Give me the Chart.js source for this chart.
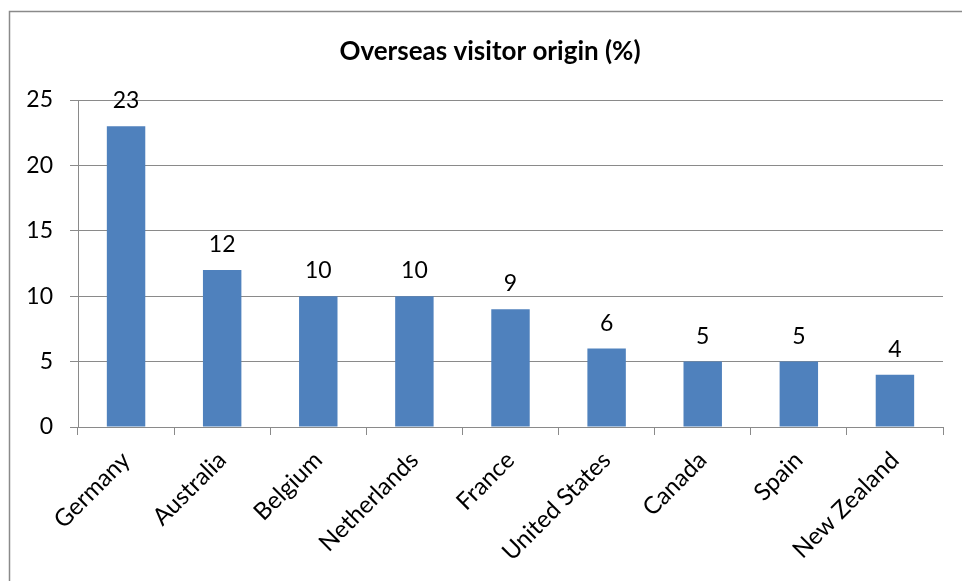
<!DOCTYPE html>
<html>
<head>
<meta charset="utf-8">
<script src="https://cdn.jsdelivr.net/npm/chart.js@4"></script>
<style>
  html, body { margin: 0; padding: 0; background: #fff; }
  #wrap { position: relative; width: 962px; height: 581px; }
</style>
</head>
<body>
<div id="wrap"><canvas id="c" width="962" height="581"></canvas></div>
<script>
// Share of overseas visitors by country of origin
const countries = ['Germany', 'Australia', 'Belgium', 'Netherlands', 'France', 'United States', 'Canada', 'Spain', 'New Zealand'];
const shares = [23, 12, 10, 10, 9, 6, 5, 5, 4];
const yTicks = [0, 5, 10, 15, 20, 25];
const chartTitle = 'Overseas visitor origin (%)';

const FONT = 'Lato, "Open Sans", sans-serif';

// White background, thin frame and the heading
const framePlugin = {
  id: 'frame',
  beforeDraw(chart) {
    const ctx = chart.ctx;
    ctx.save();
    ctx.fillStyle = '#fff';
    ctx.fillRect(0, 0, chart.width, chart.height);
    ctx.strokeStyle = '#8a8a8a';
    ctx.lineWidth = 1.5;
    ctx.strokeRect(9.5, 11.5, chart.width + 20, chart.height + 20);
    ctx.font = 'bold 26px ' + FONT;
    ctx.fillStyle = '#000';
    ctx.textAlign = 'center';
    ctx.textBaseline = 'middle';
    ctx.fillText(chartTitle, 490, 52);
    ctx.restore();
  }
};

// Value printed above each bar
const valueLabels = {
  id: 'valueLabels',
  afterDatasetsDraw(chart) {
    const ctx = chart.ctx;
    const meta = chart.getDatasetMeta(0);
    const data = chart.data.datasets[0].data;
    ctx.save();
    ctx.font = '23px ' + FONT;
    ctx.fillStyle = '#000';
    ctx.textAlign = 'center';
    ctx.textBaseline = 'alphabetic';
    meta.data.forEach((bar, i) => {
      ctx.fillText(String(data[i]), bar.x, bar.y - 18);
    });
    ctx.restore();
  }
};

new Chart(document.getElementById('c'), {
  type: 'bar',
  data: {
    labels: countries,
    datasets: [{
      data: shares,
      backgroundColor: '#4f81bd',
      borderWidth: 0,
      categoryPercentage: 1,
      barPercentage: 0.4
    }]
  },
  options: {
    responsive: false,
    animation: false,
    devicePixelRatio: 1,
    layout: { padding: { left: 0, right: 19, top: 100, bottom: 0 } },
    plugins: {
      legend: { display: false },
      tooltip: { enabled: false },
      title: { display: false }
    },
    scales: {
      x: {
        grid: {
          display: true,
          drawOnChartArea: false,
          drawTicks: true,
          tickLength: 8,
          color: '#8a8a8a',
          offset: true
        },
        border: { display: true, color: '#8a8a8a', width: 1 },
        ticks: {
          color: '#000',
          font: { family: FONT, size: 24 },
          maxRotation: 45,
          minRotation: 45,
          autoSkip: false,
          padding: 11
        },
        afterFit(scale) { scale.height = 154; }
      },
      y: {
        min: 0,
        max: 25,
        afterBuildTicks(scale) { scale.ticks = yTicks.map(v => ({ value: v })); },
        grid: {
          color: '#8a8a8a',
          drawTicks: true,
          tickLength: 8
        },
        border: { display: true, color: '#8a8a8a', width: 1 },
        ticks: {
          color: '#000',
          font: { family: FONT, size: 23 },
          padding: 17
        },
        afterFit(scale) { scale.width = 78; }
      }
    }
  },
  plugins: [framePlugin, valueLabels]
});
</script>
</body>
</html>
